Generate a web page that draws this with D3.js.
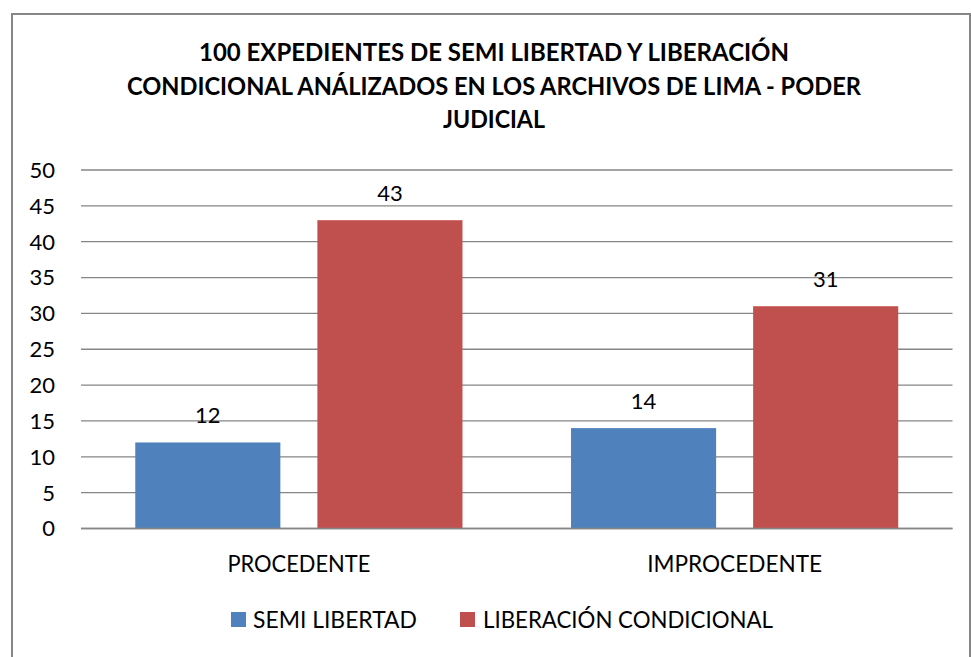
<!DOCTYPE html>
<html>
<head>
<meta charset="utf-8">
<script src="https://cdn.jsdelivr.net/npm/d3@7"></script>
<style>
  html, body { margin: 0; padding: 0; background: #fff; }
  svg { display: block; }
  text { font-family: Lato, "Open Sans", sans-serif; fill: #000; }
</style>
</head>
<body>
<svg id="chart" width="971" height="657"></svg>
<script>
// ---- data ----
const titleLines = [
  "100 EXPEDIENTES DE SEMI LIBERTAD Y LIBERACIÓN",
  "CONDICIONAL ANÁLIZADOS EN LOS ARCHIVOS DE LIMA - PODER",
  "JUDICIAL"
];
const categories = ["PROCEDENTE", "IMPROCEDENTE"];
const seriesNames = ["SEMI LIBERTAD", "LIBERACIÓN CONDICIONAL"];
const semiLibertad = [12, 14];
const liberacionCondicional = [43, 31];
const yTicks = [0, 5, 10, 15, 20, 25, 30, 35, 40, 45, 50];
const colors = ["#4F81BD", "#C0504D"];

const seriesValues = [semiLibertad, liberacionCondicional];

const svg = d3.select("#chart");

// helper: squeeze text to target width at given font size
function fit(sel, target, size) {
  sel.style("font-size", size + "px");
  const w = sel.node().getComputedTextLength();
  if (w > target) {
    sel.attr("textLength", target).attr("lengthAdjust", "spacingAndGlyphs");
  } else {
    sel.style("font-size", (size * target / w) + "px");
  }
}

// frame
svg.append("rect")
  .attr("x", 12).attr("y", 14)
  .attr("width", 958).attr("height", 660)
  .attr("fill", "#fff")
  .attr("stroke", "#868686").attr("stroke-width", 2);

// title
const titleBaselines = [61, 94.5, 127.5];
const titleWidths = [590, 734, 102];
titleLines.forEach((t, i) => {
  const el = svg.append("text")
    .attr("x", 494).attr("y", titleBaselines[i])
    .attr("text-anchor", "middle")
    .style("font-weight", "bold")
    .text(t);
  fit(el, titleWidths[i], 24.5);
});

// scales
const plotLeft = 81, plotRight = 952.5, yTop = 170, yBottom = 528.5;
const x0 = d3.scaleBand().domain(categories).range([plotLeft, plotRight]).padding(0);
const x1 = d3.scaleBand().domain(seriesNames).range([0, x0.bandwidth()])
  .paddingInner(0.2033).paddingOuter(0.298);
const y = d3.scaleLinear().domain([0, 50]).range([yBottom, yTop]);

// gridlines
svg.append("g").selectAll("line").data(yTicks).join("line")
  .attr("x1", plotLeft).attr("x2", plotRight)
  .attr("y1", d => y(d)).attr("y2", d => y(d))
  .attr("stroke", "#868686").attr("stroke-width", 1.3);

// y axis labels
svg.append("g").selectAll("text").data(yTicks).join("text")
  .attr("x", 55).attr("y", d => y(d))
  .attr("dy", "0.36em")
  .attr("text-anchor", "end")
  .style("font-size", "22px")
  .text(d => d);

// bars
const groups = svg.append("g").selectAll("g").data(categories).join("g")
  .attr("transform", c => `translate(${x0(c)},0)`);

groups.each(function(c, ci) {
  const g = d3.select(this);
  seriesNames.forEach((s, si) => {
    const v = seriesValues[si][ci];
    g.append("rect")
      .attr("x", x1(s)).attr("width", x1.bandwidth())
      .attr("y", y(v)).attr("height", y(0) - y(v))
      .attr("fill", colors[si]);
    g.append("text")
      .attr("x", x1(s) + x1.bandwidth() / 2)
      .attr("y", y(v) - 19)
      .attr("text-anchor", "middle")
      .style("font-size", "22px")
      .text(v);
  });
});

// baseline redraw on top
svg.append("line")
  .attr("x1", plotLeft).attr("x2", plotRight)
  .attr("y1", y(0)).attr("y2", y(0))
  .attr("stroke", "#868686").attr("stroke-width", 1.5);

// category labels
categories.forEach(c => {
  const el = svg.append("text")
    .attr("x", x0(c) + x0.bandwidth() / 2)
    .attr("y", 572)
    .attr("text-anchor", "middle")
    .text(c);
  fit(el, c === "PROCEDENTE" ? 143 : 175, 23);
});

// legend
const legendItems = [
  { name: seriesNames[0], sx: 231, tx: 253, tw: 164 },
  { name: seriesNames[1], sx: 460, tx: 483, tw: 290 }
];
legendItems.forEach((it, i) => {
  svg.append("rect")
    .attr("x", it.sx).attr("y", 612)
    .attr("width", 15).attr("height", 15)
    .attr("fill", colors[i]);
  const el = svg.append("text")
    .attr("x", it.tx).attr("y", 628)
    .text(it.name);
  fit(el, it.tw, 23);
});
</script>
</body>
</html>
